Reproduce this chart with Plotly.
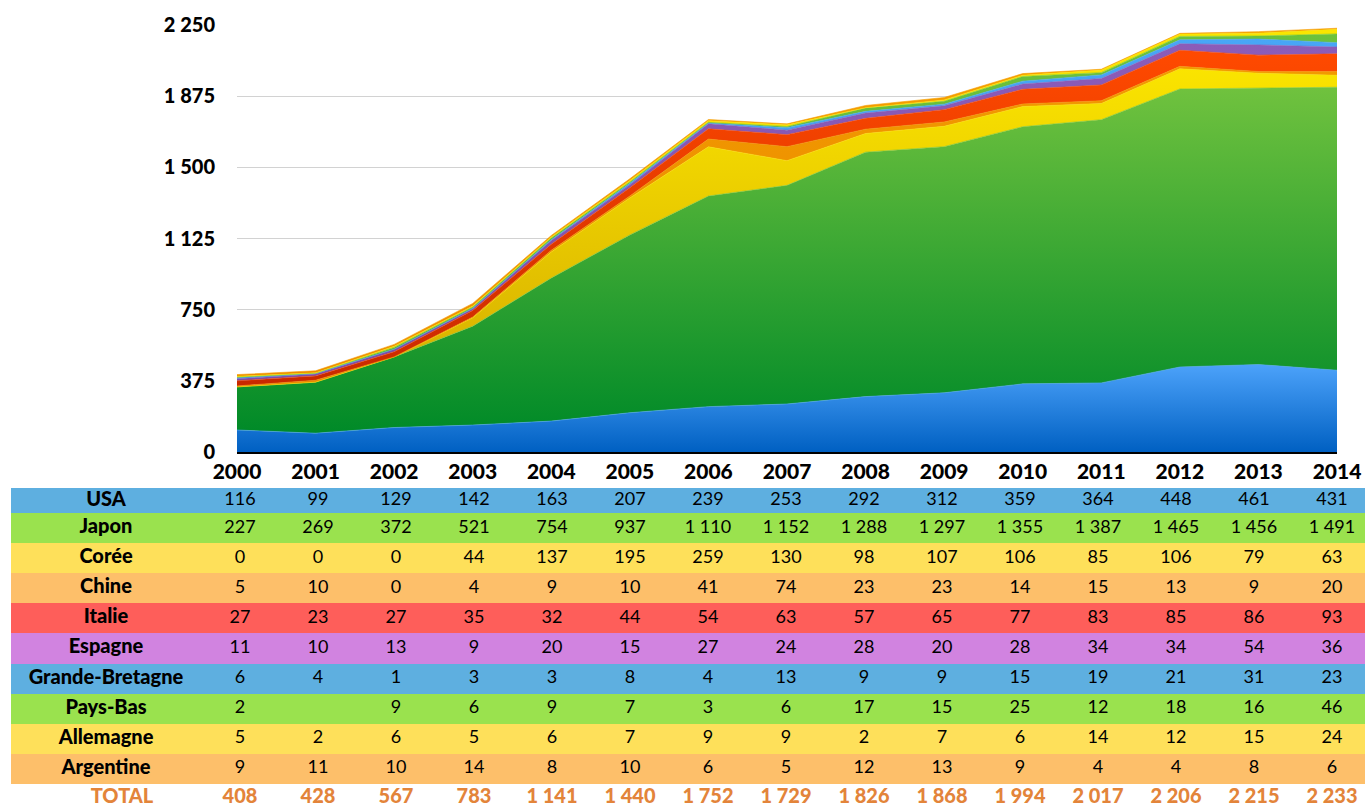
import plotly.graph_objects as go

years = list(range(2000, 2015))
countries = ["USA", "Japon", "Corée", "Chine", "Italie", "Espagne",
             "Grande-Bretagne", "Pays-Bas", "Allemagne", "Argentine"]
usa = [116, 99, 129, 142, 163, 207, 239, 253, 292, 312, 359, 364, 448, 461, 431]
japon = [227, 269, 372, 521, 754, 937, 1110, 1152, 1288, 1297, 1355, 1387, 1465, 1456, 1491]
coree = [0, 0, 0, 44, 137, 195, 259, 130, 98, 107, 106, 85, 106, 79, 63]
chine = [5, 10, 0, 4, 9, 10, 41, 74, 23, 23, 14, 15, 13, 9, 20]
italie = [27, 23, 27, 35, 32, 44, 54, 63, 57, 65, 77, 83, 85, 86, 93]
espagne = [11, 10, 13, 9, 20, 15, 27, 24, 28, 20, 28, 34, 34, 54, 36]
grande_bretagne = [6, 4, 1, 3, 3, 8, 4, 13, 9, 9, 15, 19, 21, 31, 23]
pays_bas = [2, None, 9, 6, 9, 7, 3, 6, 17, 15, 25, 12, 18, 16, 46]
allemagne = [5, 2, 6, 5, 6, 7, 9, 9, 2, 7, 6, 14, 12, 15, 24]
argentine = [9, 11, 10, 14, 8, 10, 6, 5, 12, 13, 9, 4, 4, 8, 6]
y_ticks = [0, 375, 750, 1125, 1500, 1875, 2250]
total_label = "TOTAL"

series = [usa, japon, coree, chine, italie, espagne, grande_bretagne,
          pays_bas, allemagne, argentine]

# ---------------- styles ----------------
area_colors = [  # (bottom, top) of vertical gradient
    ("#0060C2", "#4CA2FA"),
    ("#008A28", "#70C23E"),
    ("#D6AE00", "#FAE400"),
    ("#E88400", "#F29A00"),
    ("#C82800", "#FF4A00"),
    ("#7A4EAA", "#8C5CB8"),
    ("#3A98EC", "#48A6F6"),
    ("#5EB232", "#6CC23C"),
    ("#F2D800", "#FAE600"),
    ("#EC8A00", "#F6A000"),
]
row_colors = ["#5EAFE0", "#9AE24E", "#FEE05A", "#FDBF6A", "#FE5E5A",
              "#D183E0", "#5EAFE0", "#9AE24E", "#FEE05A", "#FDBF6A"]
total_color = "#E3843A"
FONT = "Lato"
W, H = 1365, 807

# table geometry (pixels)
TABLE_TOP = 488
COL0_PX, COL_STEP = 240, 78.0
HEADER_H, ROW_H, TOTAL_GAP = 25, 30.1, 14
TABLE_H = H - TABLE_TOP

def tx(px):
    return years[0] + (px - COL0_PX) / COL_STEP

def fmt(v):
    if v is None:
        return ""
    return f"{v:,}".replace(",", " ")

fig = go.Figure()

# ---------------- stacked areas ----------------
lower = [0] * len(years)
for name, vals, (c0, c1) in zip(countries, series, area_colors):
    v = [0 if x is None else x for x in vals]
    upper = [a + b for a, b in zip(lower, v)]
    fig.add_trace(go.Scatter(
        x=years, y=v, name=name, stackgroup="one", mode="lines",
        line=dict(width=0.6, color=c1),
        fillgradient=dict(type="vertical", start=min(lower), stop=max(upper),
                          colorscale=[[0, c0], [1, c1]]),
        hoverinfo="skip", showlegend=False,
    ))
    lower = upper

totals = [sum(0 if s[i] is None else s[i] for s in series) for i in range(len(years))]

# ---------------- table ----------------
n_rows = len(countries)
edges = [0, HEADER_H] + [HEADER_H + ROW_H * k for k in range(1, n_rows)]
centers = [(edges[k] + edges[k + 1]) / 2 for k in range(n_rows)]
total_center = edges[-1] + TOTAL_GAP

uniq = []
for c in row_colors:
    if c not in uniq:
        uniq.append(c)
z = [[uniq.index(c)] for c in row_colors]
scale = [[i / (len(uniq) - 1), c] for i, c in enumerate(uniq)]

fig.add_trace(go.Heatmap(
    x=[tx(11), tx(W)], y=edges, z=z, colorscale=scale,
    zmin=0, zmax=len(uniq) - 1, showscale=False, hoverinfo="skip",
    xaxis="x2", yaxis="y2",
))

label_x = tx(106)
for k, (name, vals) in enumerate(zip(countries, series)):
    fig.add_trace(go.Scatter(
        x=years, y=[centers[k]] * len(years), mode="text",
        text=[fmt(v) for v in vals],
        textfont=dict(family=FONT, size=18, color="black"),
        xaxis="x2", yaxis="y2", hoverinfo="skip", showlegend=False,
    ))
    fig.add_trace(go.Scatter(
        x=[label_x], y=[centers[k]], mode="text", text=[name],
        textfont=dict(family=FONT, size=20, color="black", weight=900),
        xaxis="x2", yaxis="y2", hoverinfo="skip", showlegend=False,
    ))

fig.add_trace(go.Scatter(
    x=years, y=[total_center] * len(years), mode="text",
    text=[fmt(t) for t in totals],
    textfont=dict(family=FONT, size=20, color=total_color, weight=900),
    xaxis="x2", yaxis="y2", hoverinfo="skip", showlegend=False,
))
fig.add_trace(go.Scatter(
    x=[tx(122)], y=[total_center], mode="text", text=[total_label],
    textfont=dict(family=FONT, size=20, color=total_color, weight=900),
    xaxis="x2", yaxis="y2", hoverinfo="skip", showlegend=False,
))

fig.update_layout(
    width=W, height=H, autosize=False,
    margin=dict(l=0, r=0, t=0, b=0, pad=0),
    paper_bgcolor="white", plot_bgcolor="white",
    hovermode=False,
    xaxis=dict(domain=[237 / W, 1337 / W], range=[2000, 2014],
               tickvals=years, ticktext=[str(y) for y in years],
               tickfont=dict(family=FONT, size=21, color="black", weight=900),
               showgrid=False, showline=True, linecolor="black", linewidth=2,
               zeroline=False, ticks="", automargin=False,
               ticklabeloverflow="allow"),
    yaxis=dict(domain=[1 - 452 / H, 1 - 25 / H], range=[0, 2250],
               tickvals=y_ticks, ticktext=[fmt(t) for t in y_ticks],
               tickfont=dict(family=FONT, size=20, color="black", weight=900),
               showgrid=True, gridcolor="#D2D2D2", gridwidth=1,
               zeroline=False, showline=False,
               ticks="outside", ticklen=17, tickcolor="rgba(0,0,0,0)",
               automargin=False, ticklabeloverflow="allow"),
    xaxis2=dict(domain=[0, 1], range=[tx(0), tx(W)], visible=False,
                anchor="y2", fixedrange=True),
    yaxis2=dict(domain=[0, TABLE_H / H], range=[TABLE_H, 0], visible=False,
                anchor="x2", fixedrange=True),
)

fig.write_html("out.html", config={"displayModeBar": False},
               post_script="document.body.style.margin='0px';"
                           "document.body.style.overflow='hidden';")
